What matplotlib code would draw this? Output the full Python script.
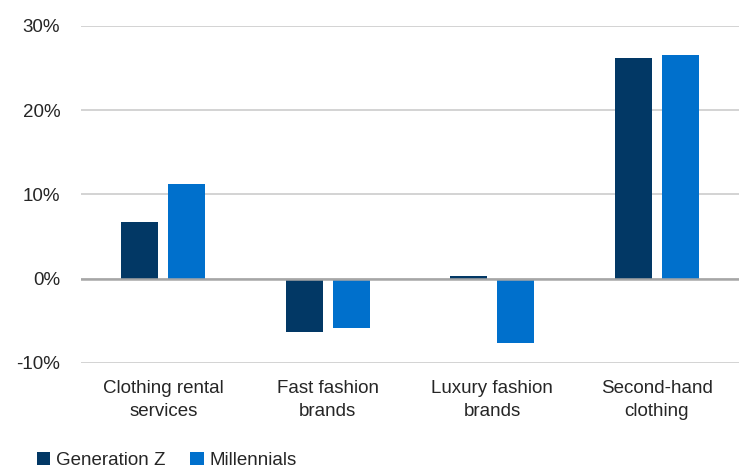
import numpy as np
import matplotlib.pyplot as plt
from matplotlib.ticker import FuncFormatter

plt.rcParams['font.family'] = ['Liberation Sans', 'DejaVu Sans']

categories = ['Clothing rental\nservices', 'Fast fashion\nbrands', 'Luxury fashion\nbrands', 'Second-hand\nclothing']
gen_z = [6.7, -6.3, 0.3, 26.2]
millennials = [11.3, -5.9, -7.6, 26.5]
series_names = ['Generation Z', 'Millennials']
colors = ['#023865', '#0070cc']

fig = plt.figure(figsize=(7.39, 4.70), dpi=100)
ax = fig.add_axes([0.1096, 0.2277, 0.8904, 0.717])

x = np.arange(len(categories))
w = 0.225
off = 0.143
ax.bar(x - off, gen_z, w, color=colors[0], label=series_names[0], zorder=3)
ax.bar(x + off, millennials, w, color=colors[1], label=series_names[1], zorder=3)

ax.set_xlim(-0.5, len(categories) - 0.5)
ax.set_ylim(-10, 30)
ax.set_yticks([-10, 0, 10, 20, 30])
ax.yaxis.set_major_formatter(FuncFormatter(lambda v, p: '%d%%' % v))
ax.grid(axis='y', color='#d0d0d0', linewidth=1.3, zorder=0)
ax.axhline(0, color='#a6a6a6', linewidth=1.8, zorder=4)

for s in ax.spines.values():
    s.set_visible(False)
ax.tick_params(length=0, labelsize=13.5, colors='#262626')
ax.tick_params(axis='y', pad=15)
ax.set_xticks(x)
ax.set_xticklabels(categories, linespacing=1.5)
ax.tick_params(axis='x', pad=12)

fig.legend(loc='center left', bbox_to_anchor=(0.027, 0.02), ncol=2, frameon=False,
           fontsize=13.5, handlelength=0.7, handleheight=0.7, handletextpad=0.3,
           columnspacing=1.35, labelcolor='#262626')

fig.savefig('out.png', dpi=100)
